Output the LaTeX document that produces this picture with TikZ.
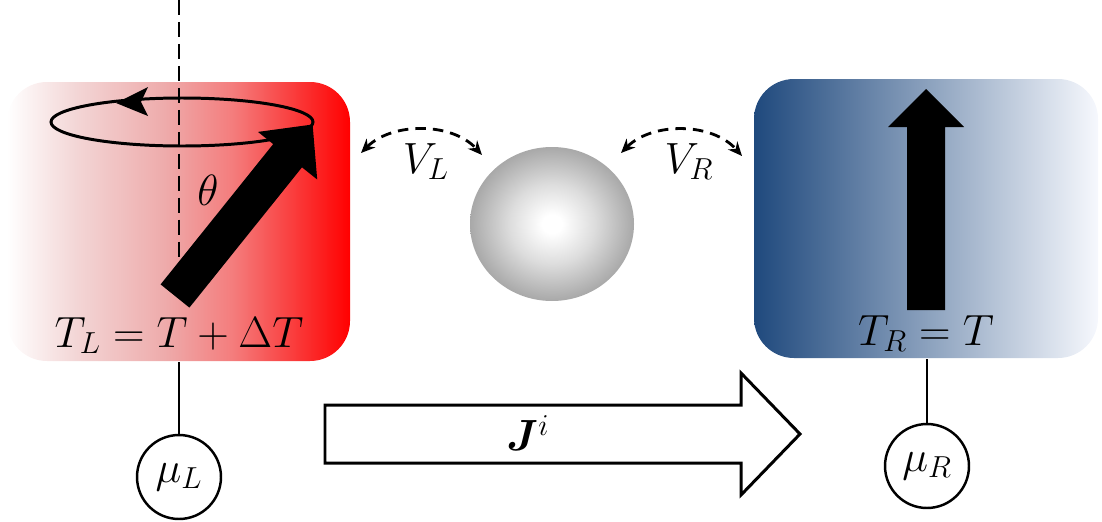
\documentclass[tikz,border=0pt]{standalone}
\usepackage{bm}
\usetikzlibrary{arrows.meta}
\definecolor{redA}{HTML}{F3D6D6}
\definecolor{redB}{HTML}{EEABAB}
\definecolor{redC}{HTML}{F47C7C}
\definecolor{bluedark}{HTML}{1F497D}
\definecolor{bluemid}{HTML}{7F99C2}
\definecolor{bluelight}{HTML}{F6F8FD}
\pgfdeclarehorizontalshading{hotsh}{100bp}{color(0bp)=(white); color(25bp)=(white); color(35bp)=(redA); color(48bp)=(redB); color(58bp)=(redC); color(75bp)=(red); color(100bp)=(red)}
\pgfdeclareradialshading{spheresh}{\pgfpoint{0bp}{0bp}}{color(0bp)=(white); color(3bp)=(white); color(13bp)=(gray!27); color(25bp)=(gray!68); color(50bp)=(gray!68)}
\tikzset{
  lbl/.style={font=\fontsize{23}{27}\selectfont, inner sep=0pt},
  potcircle/.style={draw, line width=1.4pt, circle, minimum size=1.68cm, inner sep=0pt, fill=white, font=\fontsize{23}{27}\selectfont},
  wire/.style={line width=1pt},
  hop/.style={line width=1.6pt, dash pattern=on 6pt off 4pt, {Stealth[length=8pt,width=7pt]}-{Stealth[length=8pt,width=7pt]}},
  box/.style={rounded corners=0.8cm},
}
\begin{document}
\begin{tikzpicture}[x=0.02cm, y=-0.02cm]
\useasboundingbox (0,0) rectangle (1102,521);
% reservoirs
\shade[box, shading=hotsh] (7,82) rectangle (350,361);
\shade[box, left color=bluedark, middle color=bluemid, right color=bluelight] (754,79) rectangle (1098,358);
% dashed axis
\draw[line width=1.5pt, dash pattern=on 8.5pt off 4pt] (179,0) -- (179,290);
% precession ellipse
\draw[line width=1.7pt] (182,122) ellipse [x radius=131, y radius=24];
\fill (116,103) -- (148,87) -- (141,102) -- (148,116) -- cycle;
% tilted spin arrow
\fill (160.6,284.4) -- (273.2,144.1) -- (258.0,131.9) -- (312.6,124.5) -- (317.2,179.5) -- (302.0,167.3) -- (189.4,307.6) -- cycle;
% upright spin arrow
\fill (907,310) -- (907,127) -- (888,127) -- (926,89) -- (964,127) -- (945,127) -- (945,310) -- cycle;
% dot
\shade[shading=spheresh] (552,224) ellipse [x radius=82, y radius=77];
% labels
\node[lbl] (theta) at (208,190) {$\theta$};
\node[lbl, anchor=base] (TL) at (179,347) {$T_L = T + \Delta T$};
\node[lbl, anchor=base] (TR) at (926,345) {$T_R = T$};
\node[lbl, anchor=base] (VL) at (426,173) {$V_L$};
\node[lbl, anchor=base] (VR) at (689,173) {$V_R$};
% hopping arrows
\coordinate (hl1) at (361,153);
\coordinate (hl2) at (482,155);
\coordinate (hr1) at (621,153);
\coordinate (hr2) at (742,156);
\draw[hop] (hl1) .. controls (392,122) and (452,122) .. (hl2);
\draw[hop] (hr1) .. controls (652,122) and (712,122) .. (hr2);
% chemical potentials
\node[potcircle] (muL) at (179,477) {$\mu_L$};
\node[potcircle] (muR) at (927,466) {$\mu_R$};
\coordinate (bl) at (179,362);
\coordinate (br) at (927,359);
\draw[wire] (bl) -- (muL.north);
\draw[wire] (br) -- (muR.north);
% current arrow
\draw[line width=1.7pt, line join=miter] (325,405) -- (741,405) -- (741,373) -- (800,434) -- (741,495) -- (741,463) -- (325,463) -- cycle;
\node[lbl] (J) at (528,433) {$\bm{J}^{i}$};
\end{tikzpicture}
\end{document}
